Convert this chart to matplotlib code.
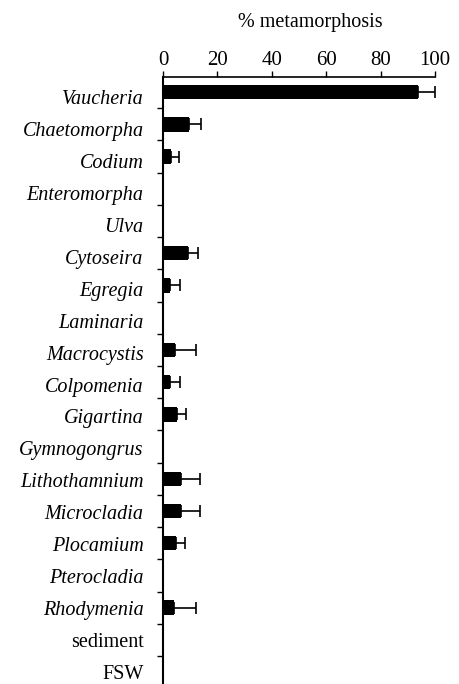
import matplotlib
matplotlib.use("Agg")
import matplotlib.pyplot as plt
import numpy as np

# substrates, top to bottom
substrates = ["Vaucheria", "Chaetomorpha", "Codium", "Enteromorpha", "Ulva",
              "Cytoseira", "Egregia", "Laminaria", "Macrocystis", "Colpomenia",
              "Gigartina", "Gymnogongrus", "Lithothamnium", "Microcladia",
              "Plocamium", "Pterocladia", "Rhodymenia", "sediment", "FSW"]
italic = [True] * 17 + [False, False]

# mean % metamorphosis and upper error (SE)
pct = [93.8, 9.7, 3.0, 0, 0, 9.3, 2.6, 0, 4.4, 2.6,
       5.0, 0, 6.7, 6.7, 4.7, 0, 4.2, 0, 0]
err = [6.2, 4.3, 3.0, 0, 0, 3.7, 3.8, 0, 7.6, 3.7,
       3.5, 0, 6.9, 6.9, 3.5, 0, 7.8, 0, 0]

plt.rcParams["font.family"] = "Liberation Serif"

fig = plt.figure(figsize=(4.59, 6.84), dpi=100)
ax = fig.add_axes([163 / 459, 0.0, 272 / 459, 1 - 77 / 684])

y = np.arange(len(substrates))
has = np.array(pct) > 0
ax.barh(y[has], np.array(pct)[has], height=0.45, color="black")
ax.errorbar(np.array(pct)[has], y[has],
            xerr=[np.zeros(has.sum()), np.array(err)[has]],
            fmt="none", ecolor="black", elinewidth=1.2, capsize=4, capthick=1.2)

ax.set_xlim(0, 100)
ax.set_ylim(18.37, -0.47)

# x axis on top
ax.xaxis.tick_top()
ax.xaxis.set_label_position("top")
ax.set_xticks([0, 20, 40, 60, 80, 100])
ax.tick_params(axis="x", direction="out", length=4, width=1, labelsize=15, pad=1)
ax.set_xlabel("% metamorphosis", fontsize=14.5, labelpad=12)
ax.xaxis.set_label_coords(0.54, 1.0 + 50 / 607)

# category labels sit a touch below the bars near the top (less so at the
# bottom); no tick marks for them, short ticks between categories instead
ax.set_yticks(y + 0.15 * (1 - y / y[-1]))
ax.set_yticklabels(substrates, fontsize=14.5)
for lab, it in zip(ax.get_yticklabels(), italic):
    lab.set_fontstyle("italic" if it else "normal")
ax.tick_params(axis="y", which="major", length=0, pad=14)
ax.set_yticks(y[:-1] + 0.5, minor=True)
ax.tick_params(axis="y", which="minor", length=4, width=1, direction="out")

for side in ["right", "bottom"]:
    ax.spines[side].set_visible(False)
ax.spines["left"].set_linewidth(1.5)
ax.spines["top"].set_linewidth(1.2)

fig.savefig("out.png", dpi=100)
